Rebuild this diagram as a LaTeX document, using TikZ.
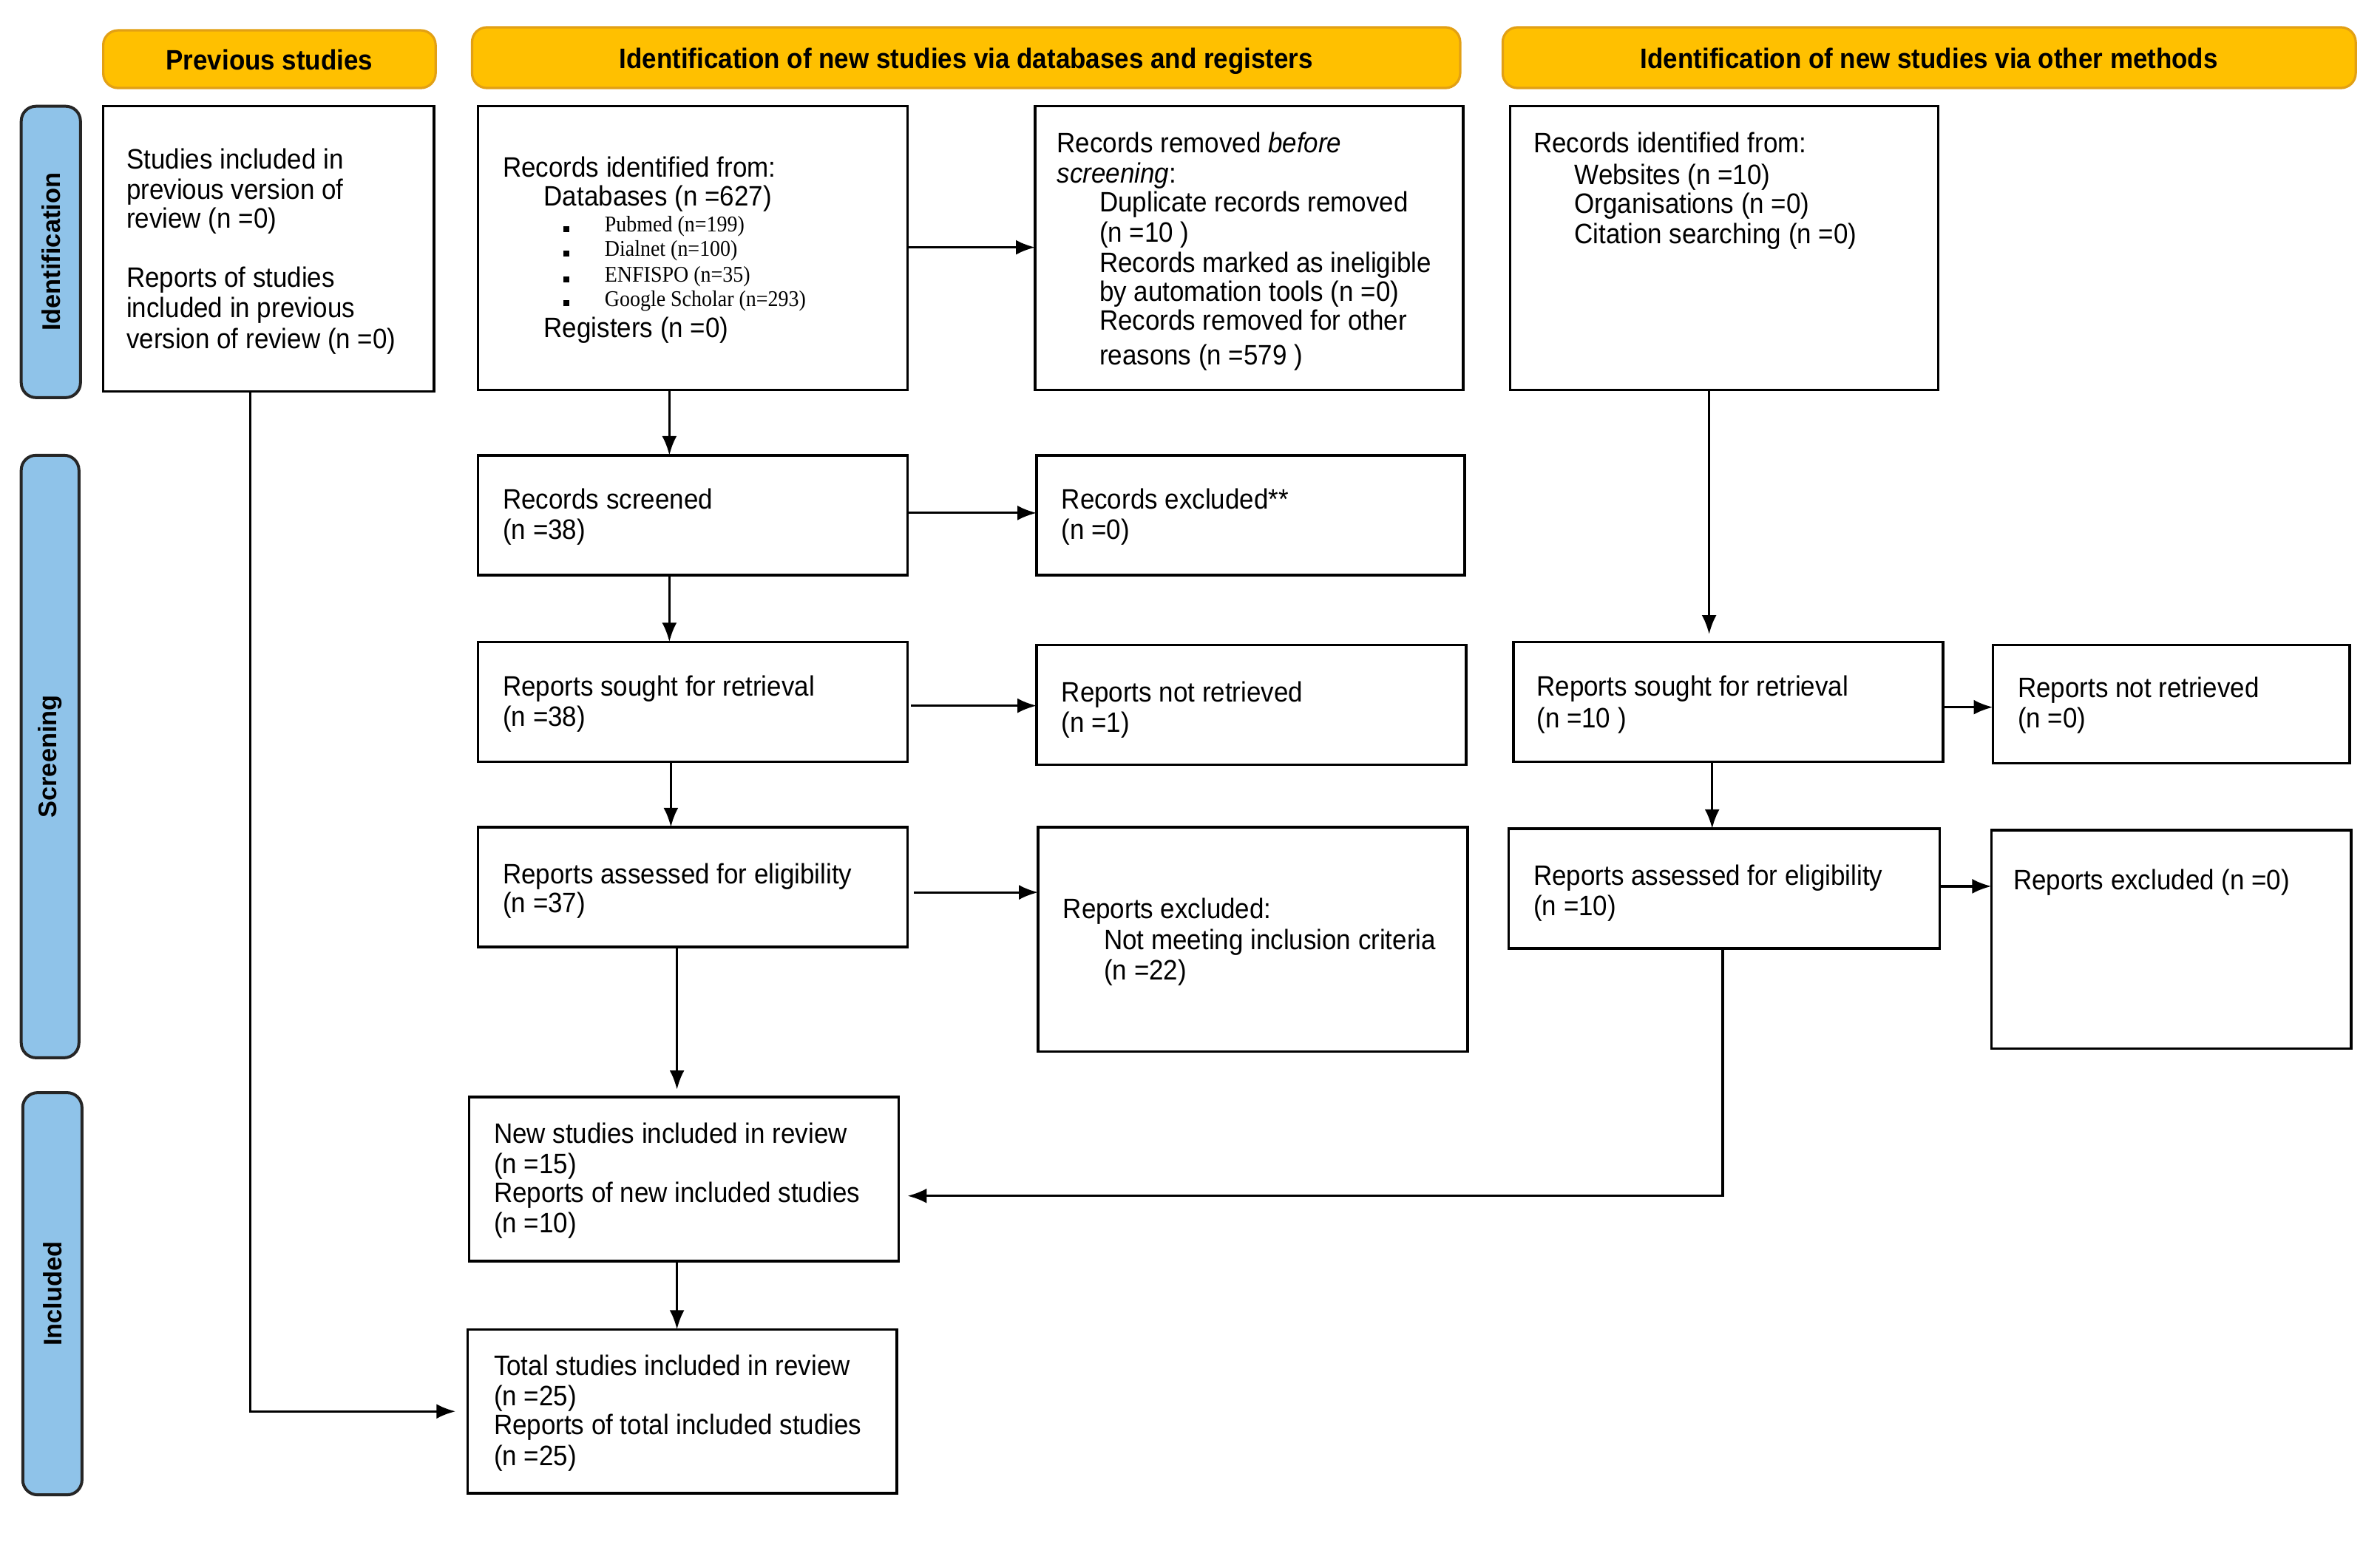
\documentclass[tikz,border=0pt]{standalone}
\usepackage{fontspec}
\setmainfont{Liberation Sans}[FakeStretch=0.92]
\newfontfamily\barfont{Liberation Sans}
\newfontfamily\serfont{Liberation Serif}[FakeStretch=0.92]
\usetikzlibrary{arrows.meta}
\definecolor{hdrfill}{RGB}{255,192,0}
\definecolor{hdrline}{RGB}{226,160,20}
\definecolor{barfill}{RGB}{143,195,233}
\tikzset{
 boxst/.style={draw=black, line width=0.9pt, inner sep=0pt, outer sep=0pt, fill=white},
 hdr/.style={draw=hdrline, fill=hdrfill, line width=0.8pt, rounded corners=5pt, inner sep=0pt, outer sep=0pt},
 hdrtxt/.style={inner sep=0pt, text height=6.8pt, text depth=2pt, font=\bfseries\fontsize{9.5}{11}\selectfont},
 sidebar/.style={draw=black!85, fill=barfill, line width=1pt, rounded corners=5pt, inner sep=0pt, outer sep=0pt},
 sidetxt/.style={rotate=90, font=\barfont\bfseries\fontsize{8.6}{10}\selectfont, inner sep=0pt},
 txt/.style={anchor=base west, inner sep=0pt, yshift=-2.8pt, font=\fontsize{9.5}{11}\selectfont},
 smalltxt/.style={anchor=base west, inner sep=0pt, yshift=-2pt, font=\serfont\fontsize{7.6}{8}\selectfont},
 arr/.style={-{Latex[length=6.5pt,width=5pt]}, line width=0.8pt},
}
% style, name, x1, y1, x2, y2, text
\newcommand\mybox[7]{\node[#1, minimum width={(#5-#3)*0.5133pt}, minimum height={(#6-#4)*0.5133pt}] (#2) at ({(#3+#5)/2},{(#4+#6)/2}) {#7};}
\newcommand\mytx[4]{\node[txt] (#1) at (#2,#3) {#4};}
\newcommand\mysm[4]{\node[smalltxt] (#1) at (#2,#3) {#4};}
\begin{document}
\begin{tikzpicture}[x=0.5133pt,y=-0.5133pt]
\useasboundingbox (0,0) rectangle (1568,1018);

% headers
\mybox{hdr}{h1}{68}{20}{287}{58}{}
\mybox{hdr}{h2}{311}{18}{962}{58}{}
\mybox{hdr}{h3}{990}{18}{1552}{58}{}
\node[hdrtxt] (h1t) at ([yshift=-1.2pt]h1.center) {Previous studies};
\node[hdrtxt] (h2t) at ([yshift=-1.2pt]h2.center) {Identification of new studies via databases and registers};
\node[hdrtxt] (h3t) at ([yshift=-1.2pt]h3.center) {Identification of new studies via other methods};

% side bars
\mybox{sidebar}{s1}{14}{70}{53}{262}{}
\mybox{sidebar}{s2}{14}{300}{52}{697}{}
\mybox{sidebar}{s3}{15}{720}{54}{985}{}
\node[sidetxt] (s1t) at (s1.center) {Identification};
\node[sidetxt] (s2t) at (s2.center) {Screening};
\node[sidetxt] (s3t) at (s3.center) {Included};

% boxes
\mybox{boxst}{prev}{68}{70}{286}{258}{}
\mybox{boxst}{db}{315}{70}{598}{257}{}
\mybox{boxst}{removed}{682}{70}{964}{257}{}
\mybox{boxst}{other}{995}{70}{1277}{257}{}
\mybox{boxst}{screened}{315}{300}{598}{379}{}
\mybox{boxst}{excluded}{683}{300}{965}{379}{}
\mybox{boxst}{sought}{315}{423}{598}{502}{}
\mybox{boxst}{notret}{683}{425}{966}{504}{}
\mybox{boxst}{assessed}{315}{545}{598}{624}{}
\mybox{boxst}{repexcl}{684}{545}{967}{693}{}
\mybox{boxst}{osought}{997}{423}{1280}{502}{}
\mybox{boxst}{onotret}{1313}{425}{1548}{503}{}
\mybox{boxst}{oassessed}{994}{546}{1278}{625}{}
\mybox{boxst}{orepexcl}{1312}{547}{1549}{691}{}
\mybox{boxst}{newinc}{309}{723}{592}{831}{}
\mybox{boxst}{total}{308}{876}{591}{984}{}

% texts: previous
\mytx{p1}{83}{106}{Studies included in}
\mytx{p2}{83}{126}{previous version of}
\mytx{p3}{83}{145}{review (n =0)}
\mytx{p4}{83}{184}{Reports of studies}
\mytx{p5}{83}{204}{included in previous}
\mytx{p6}{83}{224}{version of review (n =0)}
% db
\mytx{d1}{331}{111}{Records identified from:}
\mytx{d2}{358}{130}{Databases (n =627)}
\mysm{b1}{371}{149}{\rule{2pt}{2pt}}
\mysm{b2}{371}{165}{\rule{2pt}{2pt}}
\mysm{b3}{371}{182}{\rule{2pt}{2pt}}
\mysm{b4}{371}{198}{\rule{2pt}{2pt}}
\mysm{d3}{398}{149}{Pubmed (n=199)}
\mysm{d4}{398}{165}{Dialnet (n=100)}
\mysm{d5}{398}{182}{ENFISPO (n=35)}
\mysm{d6}{398}{198}{Google Scholar (n=293)}
\mytx{d7}{358}{217}{Registers (n =0)}
% removed
\mytx{r1}{696}{95}{Records removed \textit{before}}
\mytx{r2}{696}{115}{\textit{screening}:}
\mytx{r3}{724}{134}{Duplicate records removed}
\mytx{r4}{724}{154}{(n =10 )}
\mytx{r5}{724}{174}{Records marked as ineligible}
\mytx{r6}{724}{193}{by automation tools (n =0)}
\mytx{r7}{724}{212}{Records removed for other}
\mytx{r8}{724}{235}{reasons (n =579 )}
% other
\mytx{o1}{1010}{95}{Records identified from:}
\mytx{o2}{1037}{116}{Websites (n =10)}
\mytx{o3}{1037}{135}{Organisations (n =0)}
\mytx{o4}{1037}{155}{Citation searching (n =0)}
% screening column
\mytx{sc1}{331}{330}{Records screened}
\mytx{sc2}{331}{350}{(n =38)}
\mytx{ex1}{699}{330}{Records excluded**}
\mytx{ex2}{699}{350}{(n =0)}
\mytx{so1}{331}{453}{Reports sought for retrieval}
\mytx{so2}{331}{473}{(n =38)}
\mytx{nr1}{699}{457}{Reports not retrieved}
\mytx{nr2}{699}{477}{(n =1)}
\mytx{as1}{331}{577}{Reports assessed for eligibility}
\mytx{as2}{331}{596}{(n =37)}
\mytx{re1}{700}{600}{Reports excluded:}
\mytx{re2}{727}{620}{Not meeting inclusion criteria}
\mytx{re3}{727}{640}{(n =22)}
% other methods column
\mytx{os1}{1012}{453}{Reports sought for retrieval}
\mytx{os2}{1012}{474}{(n =10 )}
\mytx{on1}{1329}{454}{Reports not retrieved}
\mytx{on2}{1329}{474}{(n =0)}
\mytx{oa1}{1010}{578}{Reports assessed for eligibility}
\mytx{oa2}{1010}{598}{(n =10)}
\mytx{or1}{1326}{581}{Reports excluded (n =0)}
% included
\mytx{n1}{325}{748}{New studies included in review}
\mytx{n2}{325}{768}{(n =15)}
\mytx{n3}{325}{787}{Reports of new included studies}
\mytx{n4}{325}{807}{(n =10)}
\mytx{t1}{325}{901}{Total studies included in review}
\mytx{t2}{325}{921}{(n =25)}
\mytx{t3}{325}{940}{Reports of total included studies}
\mytx{t4}{325}{960}{(n =25)}

% connectors
\draw[arr] (165,0 |- prev.south) |- ([xshift=-4pt]total.west);
\draw[arr] (441,0 |- db.south) -- (441,0 |- screened.north);
\draw[arr] (db.east |- 0,163) -- (removed.west |- 0,163);
\draw[arr] (screened.east |- 0,338) -- (excluded.west |- 0,338);
\draw[arr] (441,0 |- screened.south) -- (441,0 |- sought.north);
\draw[arr] (600,0 |- 0,465) -- (notret.west |- 0,465);
\draw[arr] (442,0 |- sought.south) -- (442,0 |- assessed.north);
\draw[arr] (602,0 |- 0,588) -- (repexcl.west |- 0,588);
\draw[arr] (446,0 |- assessed.south) -- (446,0 |- 0,718);
\draw[arr] (1126,0 |- other.south) -- (1126,0 |- 0,418);
\draw[arr] (osought.east |- 0,466) -- (onotret.west |- 0,466);
\draw[arr] (1128,0 |- osought.south) -- (1128,0 |- oassessed.north);
\draw[arr] (oassessed.east |- 0,584) -- (orepexcl.west |- 0,584);
\draw[arr] (1135,0 |- oassessed.south) |- ([xshift=3pt]newinc.east |- 0,788);
\draw[arr] (446,0 |- newinc.south) -- (446,0 |- total.north);
\end{tikzpicture}
\end{document}
